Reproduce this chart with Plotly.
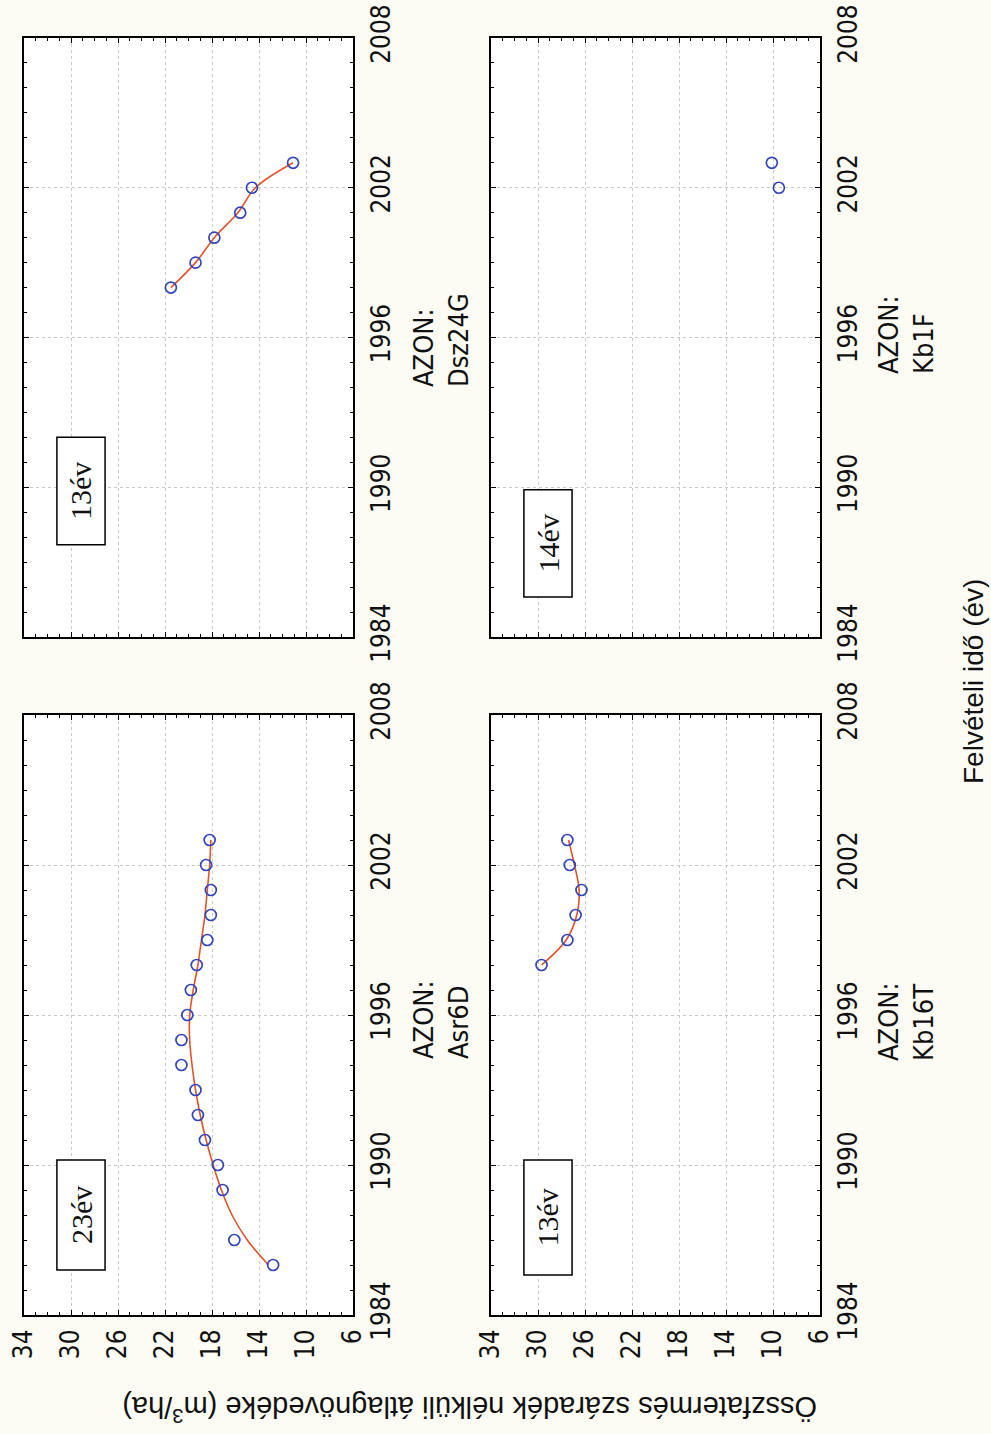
import plotly.graph_objects as go

# ---- data -------------------------------------------------------------
value_ticks = [34, 30, 26, 22, 18, 14, 10, 6]
year_ticks = [1984, 1990, 1996, 2002, 2008]

# Asr6D (23 év)
asr_years = [1986, 1987, 1989, 1990, 1991, 1992, 1993, 1994, 1995,
             1996, 1997, 1998, 1999, 2000, 2001, 2002, 2003]
asr_vals = [12.8, 16.1, 17.1, 17.5, 18.6, 19.2, 19.4, 20.6, 20.6,
            20.1, 19.8, 19.3, 18.4, 18.1, 18.1, 18.5, 18.2]
asr_fit_years = [1986, 1987, 1988, 1989, 1990, 1991, 1992, 1993, 1994,
                 1995, 1996, 1997, 1998, 1999, 2000, 2001, 2002, 2003]
asr_fit_vals = [13.2, 15.0, 16.3, 17.2, 17.9, 18.5, 19.0, 19.4, 19.7,
                19.9, 19.9, 19.6, 19.2, 18.9, 18.6, 18.4, 18.2, 18.1]

# Kb16T (13 év)
kb16_years = [1998, 1999, 2000, 2001, 2002, 2003]
kb16_vals = [29.7, 27.5, 26.8, 26.3, 27.3, 27.5]
kb16_fit_vals = [29.7, 27.6, 26.7, 26.5, 26.9, 27.4]

# Dsz24G (13 év)
dsz_years = [1998, 1999, 2000, 2001, 2002, 2003]
dsz_vals = [21.5, 19.4, 17.8, 15.6, 14.6, 11.1]
dsz_fit_vals = [21.5, 19.4, 17.8, 15.8, 14.3, 11.1]

# Kb1F (14 év)
kb1_years = [2002, 2003]
kb1_vals = [9.5, 10.1]

# ---- layout helpers ---------------------------------------------------
W, H = 991, 1434


def xdom(p0, p1):
    return [p0 / W, p1 / W]


def ydom(p_top, p_bottom):
    return [1 - p_bottom / H, 1 - p_top / H]


# panel frames in page pixels: (left, right, top, bottom)
frames = {
    1: (24, 353, 715, 1315),   # Asr6D
    2: (491, 820, 715, 1315),  # Kb16T
    3: (24, 353, 38, 637),     # Dsz24G
    4: (491, 820, 38, 637),    # Kb1F
}

TICK_FONT = dict(family="Liberation Sans Narrow, DejaVu Sans Condensed, Arial Narrow, sans-serif",
                 size=26, color="#111111")
LABEL_FONT = dict(family="Liberation Sans Narrow, DejaVu Sans Condensed, Arial Narrow, sans-serif",
                  size=27, color="#111111")
TITLE_FONT = dict(family="Liberation Sans, Arial, sans-serif", size=29, color="#111111")
SIDE_TITLE_FONT = dict(family="Liberation Sans, Arial, sans-serif", size=28, color="#111111")
BOX_FONT = dict(family="Liberation Serif, Times New Roman, serif", size=30, color="#111111")

MARKER = dict(symbol="circle-open", size=11, color="#3346b8", line=dict(width=1.7, color="#3346b8"))
LINE = dict(color="#e2532b", width=1.6)

fig = go.Figure()


def add_panel(i, years, vals, fit_years=None, fit_vals=None):
    xa = "x" if i == 1 else f"x{i}"
    ya = "y" if i == 1 else f"y{i}"
    if fit_years is not None:
        fig.add_trace(go.Scatter(x=fit_vals, y=fit_years, mode="lines", line=LINE,
                                 line_shape="spline", xaxis=xa, yaxis=ya, hoverinfo="skip"))
    fig.add_trace(go.Scatter(x=vals, y=years, mode="markers", marker=MARKER,
                             xaxis=xa, yaxis=ya))


add_panel(1, asr_years, asr_vals, asr_fit_years, asr_fit_vals)
add_panel(2, kb16_years, kb16_vals, kb16_years, kb16_fit_vals)
add_panel(3, dsz_years, dsz_vals, dsz_years, dsz_fit_vals)
add_panel(4, kb1_years, kb1_vals)

layout = dict(
    width=W, height=H,
    margin=dict(l=0, r=0, t=0, b=0, autoexpand=False),
    paper_bgcolor="#fcfcf4",
    plot_bgcolor="white",
    showlegend=False,
)

for i, (l, r, t, b) in frames.items():
    sx = "" if i == 1 else str(i)
    layout[f"xaxis{sx}"] = dict(
        domain=xdom(l, r), range=[34, 6], anchor=f"y{sx}", automargin=False,
        tickmode="array", tickvals=value_ticks,
        ticks="inside", ticklen=5, tickwidth=1.2, tickcolor="black",
        minor=dict(ticks="inside", tick0=0, dtick=1, ticklen=3, tickwidth=1, tickcolor="black", showgrid=False),
        mirror="allticks", showline=True, linecolor="black", linewidth=2,
        showgrid=True, gridcolor="#c8c8c8", griddash="dot", gridwidth=1,
        zeroline=False, showticklabels=i in (1, 2), tickangle=-90,
        tickfont=TICK_FONT, ticklabelstandoff=2,
    )
    layout[f"yaxis{sx}"] = dict(
        domain=ydom(t, b), range=[1984, 2008], anchor=f"x{sx}", side="right", automargin=False,
        tickmode="array", tickvals=year_ticks,
        ticks="inside", ticklen=5, tickwidth=1.2, tickcolor="black",
        minor=dict(ticks="inside", tick0=1984, dtick=1, ticklen=3, tickwidth=1, tickcolor="black", showgrid=False),
        mirror="allticks", showline=True, linecolor="black", linewidth=2,
        showgrid=True, gridcolor="#c8c8c8", griddash="dot", gridwidth=1,
        zeroline=False, showticklabels=True, tickangle=-90,
        tickfont=TICK_FONT, ticklabelstandoff=4,
    )

fig.update_layout(**layout)

# age boxes: (panel, text, value range, year range)
boxes = [
    (1, "23év", (31.2, 27.1), (1985.8, 1990.2)),
    (2, "13év", (31.2, 27.1), (1985.6, 1990.2)),
    (3, "13év", (31.2, 27.1), (1987.7, 1992.0)),
    (4, "14év", (31.2, 27.1), (1985.6, 1989.9)),
]
for i, txt, (v0, v1), (y0, y1) in boxes:
    xa = "x" if i == 1 else f"x{i}"
    ya = "y" if i == 1 else f"y{i}"
    fig.add_shape(type="rect", xref=xa, yref=ya, x0=v0, x1=v1, y0=y0, y1=y1,
                  line=dict(color="black", width=1.5), fillcolor="white", layer="above")
    fig.add_annotation(xref=xa, yref=ya, x=(v0 + v1) / 2, y=(y0 + y1) / 2, text=txt,
                       textangle=-90, showarrow=False, font=BOX_FONT,
                       xanchor="center", yanchor="middle")

# plot identifiers between the columns
azon = [
    ("AZON:<br>Asr6D", 441, 1020),
    ("AZON:<br>Kb16T", 906, 1022),
    ("AZON:<br>Dsz24G", 441, 340),
    ("AZON:<br>Kb1F", 906, 335),
]
for txt, px, py in azon:
    fig.add_annotation(xref="paper", yref="paper", x=px / W, y=1 - py / H, text=txt,
                       textangle=-90, showarrow=False, font=LABEL_FONT, align="left",
                       xanchor="center", yanchor="middle")

# axis titles
fig.add_annotation(xref="paper", yref="paper", x=470 / W, y=1 - 1409 / H,
                   text="Összfatermés száradék nélküli átlagnövedéke (m<sup>3</sup>/ha)",
                   textangle=180, showarrow=False, font=TITLE_FONT,
                   xanchor="center", yanchor="middle")
fig.add_annotation(xref="paper", yref="paper", x=973 / W, y=1 - 682 / H,
                   text="Felvételi idő (év)", textangle=-90, showarrow=False, font=SIDE_TITLE_FONT,
                   xanchor="center", yanchor="middle")

fig.write_html("out.html")
